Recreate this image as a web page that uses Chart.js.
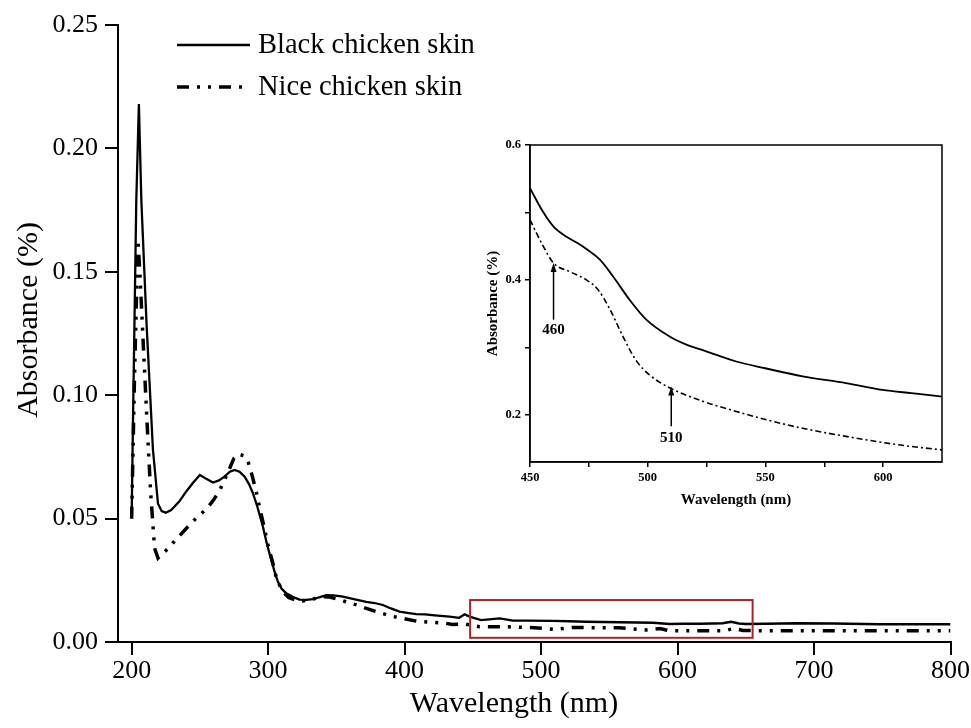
<!DOCTYPE html>
<html><head><meta charset="utf-8">
<script src="https://cdn.jsdelivr.net/npm/chart.js@4/dist/chart.umd.min.js"></script>
<style>
html,body{margin:0;padding:0;background:#fff;}
#wrap{position:relative;width:971px;height:728px;overflow:hidden;}
#main{position:absolute;left:0;top:0;}
#inset{position:absolute;left:470px;top:130px;}
</style></head><body>
<div id="wrap">
<canvas id="main" width="971" height="728"></canvas>
<canvas id="inset" width="480" height="390"></canvas>
</div>
<script>
// ---------- data ----------
const seriesNames = ['Black chicken skin', 'Nice chicken skin'];
const xTitle = 'Wavelength (nm)';
const yTitle = 'Absorbance (%)';

const blackWl = [200,201,203.4,205.3,207.1,211,215.6,219.3,222,225,229,235,240,245,250,255,259.6,264,268,272,275.5,279,282.8,286,288.9,292,296.2,299,302.3,305,307.2,310,313.3,318,323,328,332.8,338,342.6,348,354.8,362,371.9,378,384,390,396.3,402,408.5,415,422,432.9,440,444,447.6,456,462,469.6,479.4,490,508.7,520,533,545,557.5,570,582,594,605,616,626,633,639.3,645,650,665,687,714,748,775,800];
const blackAbs = [0.050,0.090,0.179,0.218,0.179,0.128,0.078,0.056,0.053,0.0524,0.0535,0.057,0.061,0.0645,0.0677,0.066,0.0646,0.0655,0.067,0.069,0.0697,0.069,0.067,0.064,0.0602,0.055,0.0467,0.040,0.0332,0.028,0.0244,0.0215,0.0197,0.0183,0.0172,0.0171,0.0174,0.0182,0.0190,0.0189,0.0184,0.0175,0.0163,0.0158,0.0150,0.0136,0.0123,0.0118,0.0113,0.0112,0.0108,0.0103,0.0098,0.0112,0.0103,0.0089,0.0092,0.0096,0.0087,0.0087,0.0086,0.0084,0.0082,0.0081,0.0080,0.0079,0.0078,0.0073,0.0074,0.0074,0.0075,0.0076,0.0082,0.0075,0.0073,0.0074,0.0076,0.0075,0.0072,0.0072,0.0072];

const niceWl = [200,202,204.6,206,209,212,214,216.8,219.3,225,230,235,240,247,255,260,265,270,275,278,282,285,288,291,294,297,300,303.5,306,310,315,320,325,330,335,340,345,350,357,365,372,380,390,400,410,420,430,435,445,455,465,480,495,511,523,540,557,577,587,594,606,620,635,641,648,660,700,750,800];
const niceAbs = [0.050,0.105,0.163,0.150,0.115,0.081,0.060,0.038,0.034,0.037,0.040,0.043,0.046,0.050,0.054,0.0575,0.062,0.068,0.0745,0.0762,0.0755,0.0737,0.068,0.0616,0.054,0.0467,0.039,0.0319,0.026,0.021,0.018,0.017,0.0166,0.0170,0.0177,0.0183,0.0182,0.0175,0.0163,0.0150,0.0136,0.0122,0.0105,0.0094,0.0083,0.0080,0.0076,0.0071,0.0072,0.0062,0.0062,0.0061,0.0058,0.0051,0.0059,0.0058,0.0058,0.0049,0.0055,0.0046,0.0046,0.0046,0.0046,0.0055,0.0047,0.0046,0.0046,0.0046,0.0046];

const xTicks = [200,300,400,500,600,700,800];
const yTicks = [0,0.05,0.10,0.15,0.20,0.25];
const zoomBox = {x0:448, x1:655, y0:0.0017, y1:0.017};

// inset
const insetBlackWl = [450,455,460,465.5,470,474.7,479.7,485.3,492.4,499.4,509.3,516.4,524.9,537.6,549.9,565.8,584.2,599.7,612,625];
const insetBlackAbs = [0.536,0.504,0.479,0.464,0.455,0.444,0.430,0.405,0.370,0.341,0.316,0.304,0.294,0.279,0.269,0.257,0.247,0.237,0.232,0.227];
const insetNiceWl = [450,455,460,467,474,479,484,489.5,495,500.8,509.3,523.4,537.6,550,565.8,584.2,599.7,612,625];
const insetNiceAbs = [0.489,0.454,0.425,0.412,0.400,0.385,0.356,0.316,0.281,0.259,0.240,0.220,0.205,0.193,0.180,0.168,0.159,0.153,0.148];
const insetXTicks = [450,475,500,525,550,575,600];
const insetYTicks = [0.2,0.3,0.4,0.5,0.6];
const insetArrows = [
  {x:460, tip:0.425, tail:0.341, label:'460', labelY:0.325},
  {x:510, tip:0.242, tail:0.183, label:'510', labelY:0.165}
];

// ---------- drawing ----------
const FONT = "'Liberation Serif','Times New Roman',serif";
const toPts = (xs, ys) => xs.map((x,i)=>({x:x, y:ys[i]}));

const legendPlugin = {
  id:'customLegend',
  afterDraw(chart){
    const ctx = chart.ctx;
    const rows = [45, 87];
    chart.data.datasets.forEach((ds,i)=>{
      const y = rows[i];
      ctx.save();
      ctx.strokeStyle = ds.borderColor;
      ctx.lineWidth = ds.borderWidth;
      ctx.setLineDash(ds.borderDash || []);
      ctx.beginPath(); ctx.moveTo(177,y); ctx.lineTo(250,y); ctx.stroke();
      ctx.setLineDash([]);
      ctx.fillStyle = '#000';
      ctx.font = '28.5px ' + FONT;
      ctx.textBaseline = 'middle';
      ctx.fillText(ds.label, 258, y+1);
      ctx.restore();
    });
  }
};

const axisTitlePlugin = {
  id:'axisTitles',
  afterDraw(chart){
    const ctx = chart.ctx;
    ctx.save();
    ctx.fillStyle = '#000';
    ctx.font = '30px ' + FONT;
    ctx.textAlign = 'center'; ctx.textBaseline = 'middle';
    ctx.fillText(xTitle, 514, 704);
    ctx.translate(29, 320);
    ctx.rotate(-Math.PI/2);
    ctx.fillText(yTitle, 0, 0);
    ctx.restore();
  }
};

const boxPlugin = {
  id:'zoomBox',
  afterDatasetsDraw(chart){
    const {ctx, scales:{x,y}} = chart;
    const l = x.getPixelForValue(zoomBox.x0), r = x.getPixelForValue(zoomBox.x1);
    const t = y.getPixelForValue(zoomBox.y1), b = y.getPixelForValue(zoomBox.y0);
    ctx.save();
    ctx.strokeStyle = '#a8262a';
    ctx.lineWidth = 2;
    ctx.strokeRect(l, t, r-l, b-t);
    ctx.restore();
  }
};

new Chart(document.getElementById('main'), {
  type:'line',
  data:{datasets:[
    {label:seriesNames[0], data:toPts(blackWl, blackAbs), borderColor:'#000', borderWidth:2.3, pointRadius:0, fill:false, tension:0},
    {label:seriesNames[1], data:toPts(niceWl, niceAbs), borderColor:'#000', borderWidth:3.5, borderDash:[12,8,3,8,3,8], pointRadius:0, fill:false, tension:0}
  ]},
  options:{
    responsive:false, animation:false, devicePixelRatio:1,
    layout:{padding:{top:25,right:20,bottom:0,left:0}},
    plugins:{legend:{display:false}, tooltip:{enabled:false}},
    scales:{
      x:{type:'linear', min:190, max:800,
        afterBuildTicks:s=>{ s.ticks = xTicks.map(v=>({value:v})); },
        afterFit:s=>{ s.height = 86; },
        grid:{display:true, drawOnChartArea:false, drawTicks:true, tickLength:13, color:'#000', lineWidth:2},
        border:{display:true, color:'#000', width:2},
        ticks:{color:'#000', font:{family:FONT, size:26}, padding:1, maxRotation:0, autoSkip:false, callback:v=>String(v)},
        title:{display:false}
      },
      y:{type:'linear', min:0, max:0.25,
        afterBuildTicks:s=>{ s.ticks = yTicks.map(v=>({value:v})); },
        afterFit:s=>{ s.width = 118; },
        grid:{display:true, drawOnChartArea:false, drawTicks:true, tickLength:13, color:'#000', lineWidth:2},
        border:{display:true, color:'#000', width:2},
        ticks:{color:'#000', font:{family:FONT, size:26}, padding:7, autoSkip:false, callback:v=>Number(v).toFixed(2)},
        title:{display:false}
      }
    }
  },
  plugins:[legendPlugin, boxPlugin, axisTitlePlugin]
});

const framePlugin = {
  id:'frame',
  afterDraw(chart){
    const {ctx, chartArea:a} = chart;
    ctx.save(); ctx.strokeStyle='#000'; ctx.lineWidth=1.5;
    ctx.strokeRect(a.left, a.top, a.right-a.left, a.bottom-a.top);
    ctx.restore();
  }
};
const arrowPlugin = {
  id:'arrows',
  afterDatasetsDraw(chart){
    const {ctx, scales:{x,y}} = chart;
    ctx.save();
    insetArrows.forEach(a=>{
      const px = x.getPixelForValue(a.x);
      const pt = y.getPixelForValue(a.tip);
      const pb = y.getPixelForValue(a.tail);
      ctx.strokeStyle='#000'; ctx.fillStyle='#000'; ctx.lineWidth=1.5;
      ctx.beginPath(); ctx.moveTo(px, pb); ctx.lineTo(px, pt+7); ctx.stroke();
      ctx.beginPath(); ctx.moveTo(px, pt); ctx.lineTo(px-3, pt+9); ctx.lineTo(px+3, pt+9); ctx.closePath(); ctx.fill();
      ctx.font = 'bold 15px ' + FONT;
      ctx.textAlign='center'; ctx.textBaseline='middle';
      ctx.fillText(a.label, px, y.getPixelForValue(a.labelY));
    });
    ctx.restore();
  }
};

new Chart(document.getElementById('inset'), {
  type:'line',
  data:{datasets:[
    {label:seriesNames[0], data:toPts(insetBlackWl, insetBlackAbs), borderColor:'#000', borderWidth:1.8, pointRadius:0, fill:false, cubicInterpolationMode:'monotone'},
    {label:seriesNames[1], data:toPts(insetNiceWl, insetNiceAbs), borderColor:'#000', borderWidth:1.6, borderDash:[6,3,2,3], pointRadius:0, fill:false, cubicInterpolationMode:'monotone'}
  ]},
  options:{
    responsive:false, animation:false, devicePixelRatio:1,
    layout:{padding:{top:15,right:8,bottom:0,left:0}},
    plugins:{legend:{display:false}, tooltip:{enabled:false}},
    scales:{
      x:{type:'linear', min:450, max:625,
        afterBuildTicks:s=>{ s.ticks = insetXTicks.map(v=>({value:v})); },
        afterFit:s=>{ s.height = 58; },
        grid:{display:true, drawOnChartArea:false, drawTicks:true, tickLength:5, color:'#000', lineWidth:1.5},
        border:{display:true, color:'#000', width:1.5},
        ticks:{color:'#000', font:{family:FONT, size:12.5, weight:'bold'}, padding:3, maxRotation:0, autoSkip:false, callback:v=>(v%50===0?String(v):'')},
        title:{display:true, text:xTitle, color:'#000', font:{family:FONT, size:15, weight:'bold'}, padding:{top:0,bottom:11}}
      },
      y:{type:'linear', min:0.13, max:0.6,
        afterBuildTicks:s=>{ s.ticks = insetYTicks.map(v=>({value:v})); },
        afterFit:s=>{ s.width = 60; },
        grid:{display:true, drawOnChartArea:false, drawTicks:true, tickLength:5, color:'#000', lineWidth:1.5},
        border:{display:true, color:'#000', width:1.5},
        ticks:{color:'#000', font:{family:FONT, size:12.5, weight:'bold'}, padding:4, autoSkip:false, callback:v=>(Math.round(v*10)%2===0?Number(v).toFixed(1):'')},
        title:{display:true, text:yTitle, color:'#000', font:{family:FONT, size:15, weight:'bold'}, padding:{top:14,bottom:0}}
      }
    }
  },
  plugins:[framePlugin, arrowPlugin]
});
</script>
</body></html>
